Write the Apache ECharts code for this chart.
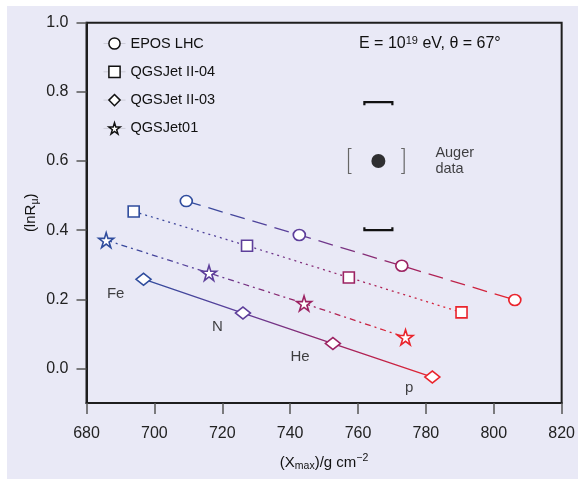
<!DOCTYPE html>
<html>
<head>
<meta charset="utf-8">
<script src="https://cdn.jsdelivr.net/npm/echarts@6/dist/echarts.min.js"></script>
<style>
  html, body { margin: 0; padding: 0; background: #ffffff; }
  #frame { position: absolute; left: 7px; top: 6px; width: 571px; height: 473px; background: #e9e9f6; }
  #chart { position: absolute; left: 0; top: 0; width: 578px; height: 479px; }
</style>
</head>
<body>
<div id="frame"></div>
<div id="chart"></div>
<script>
// Muon number (lnR_mu) versus depth of shower maximum for four interaction models
const seriesNames = ['EPOS LHC', 'QGSJet II-04', 'QGSJet II-03', 'QGSJet01'];
const primaries = ['Fe', 'N', 'He', 'p'];

const eposX = [709.4, 742.7, 772.9, 806.2];
const eposY = [0.484, 0.386, 0.297, 0.198];

const qgsII04X = [693.9, 727.3, 757.3, 790.5];
const qgsII04Y = [0.454, 0.355, 0.263, 0.162];

const qgsII03X = [696.8, 726.1, 752.6, 781.9];
const qgsII03Y = [0.258, 0.160, 0.072, -0.025];

const qgs01X = [685.8, 716.1, 744.1, 774.0];
const qgs01Y = [0.371, 0.276, 0.188, 0.090];

// Auger measurement with systematic ranges
const augerX = [766.0];
const augerY = [0.600];
const augerYRange = [0.400, 0.770];
const augerXRange = [757.2, 773.6];

// Primary labels placed along the QGSJet II-03 line
const primaryLabelX = [688.6, 718.6, 742.9, 775.1];
const primaryLabelY = [0.215, 0.120, 0.033, -0.057];

const xTicks = [680, 700, 720, 740, 760, 780, 800, 820];
const yTicks = [0.0, 0.2, 0.4, 0.6, 0.8, 1.0];

const primaryColors = ['#2f4c9d', '#5d3e9a', '#9c2262', '#ea242c'];
const STAR = 'path://M50,0 L61.2,34.5 L97.6,34.5 L68.2,55.9 L79.4,90.5 L50,69.1 L20.6,90.5 L31.8,55.9 L2.4,34.5 L38.8,34.5 Z';

const SANS = '"Liberation Sans", Arial, sans-serif';

function zip(xs, ys) { return xs.map((x, i) => [x, ys[i]]); }

function gradient() {
  return new echarts.graphic.LinearGradient(0, 0, 1, 0, [
    { offset: 0, color: primaryColors[0] },
    { offset: 0.33, color: primaryColors[1] },
    { offset: 0.67, color: primaryColors[2] },
    { offset: 1, color: primaryColors[3] }
  ]);
}

function modelSeries(name, xs, ys, symbol, size, dash) {
  return {
    name: name,
    type: 'line',
    data: zip(xs, ys).map((p, i) => ({
      value: p,
      itemStyle: { color: '#ffffff', borderColor: primaryColors[i], borderWidth: 1.6 }
    })),
    symbol: symbol,
    symbolSize: size,
    showAllSymbol: true,
    z: 3,
    lineStyle: { color: gradient(), width: 1.3, type: dash },
    emphasis: { disabled: true },
    animation: false
  };
}

const chart = echarts.init(document.getElementById('chart'), null, { renderer: 'canvas' });

const option = {
  backgroundColor: 'transparent',
  animation: false,
  grid: {
    left: 86.5, right: 14, top: 22.7, bottom: 76,
    show: true, borderColor: '#1e1e1e', borderWidth: 2, backgroundColor: 'transparent'
  },
  legend: {
    orient: 'vertical',
    left: 98, top: 31,
    itemWidth: 22, itemHeight: 14, itemGap: 13.3,
    data: seriesNames,
    lineStyle: { color: 'rgba(0,0,0,0.12)', width: 1, type: 'solid' },
    itemStyle: { color: '#ffffff', borderColor: '#111111', borderWidth: 1.5 },
    textStyle: { fontFamily: SANS, fontSize: 14.5, color: '#111', lineHeight: 14, height: 14, padding: 0 },
    selectedMode: false
  },
  xAxis: {
    type: 'value', min: 680, max: 820, interval: 20,
    name: '({x|X}{sub|max})/g cm{sup|−2}',
    nameLocation: 'middle', nameGap: 50, nameMoveOverlap: false,
    nameTextStyle: {
      fontFamily: SANS, fontSize: 15, color: '#111',
      rich: {
        x: { fontFamily: SANS, fontSize: 15, color: '#111' },
        sub: { fontFamily: SANS, fontSize: 10.5, color: '#111', verticalAlign: 'bottom', padding: [8, 0, 0, 0] },
        sup: { fontFamily: SANS, fontSize: 10.5, color: '#111', verticalAlign: 'top', padding: [0, 0, 8, 0] }
      }
    },
    axisLine: { show: true, onZero: false, lineStyle: { color: '#1e1e1e', width: 2 } },
    axisTick: { show: true, inside: false, length: 11, lineStyle: { color: '#555', width: 1.5 } },
    axisLabel: { fontFamily: SANS, fontSize: 16, color: '#222', margin: 23 },
    splitLine: { show: false }
  },
  yAxis: {
    type: 'value', min: -0.1, max: 1.0,
    name: '(lnR{sub|μ})',
    nameLocation: 'middle', nameGap: 46, nameRotate: 90, nameMoveOverlap: false,
    nameTextStyle: {
      fontFamily: SANS, fontSize: 15, color: '#111',
      rich: {
        sub: { fontFamily: SANS, fontSize: 10.5, color: '#111', verticalAlign: 'bottom', padding: [8, 0, 0, 0] }
      }
    },
    axisLine: { show: true, onZero: false, lineStyle: { color: '#1e1e1e', width: 2 } },
    axisTick: { show: true, inside: false, length: 10, lineStyle: { color: '#555', width: 1.5 },
      customValues: yTicks },
    axisLabel: { fontFamily: SANS, fontSize: 16, color: '#222', margin: 18,
      customValues: yTicks, formatter: v => v.toFixed(1) },
    splitLine: { show: false }
  },
  graphic: [{
    type: 'text', left: 359, top: 35, z: 10,
    style: {
      text: 'E = 10{sup|19} eV, θ = 67°',
      font: '16px ' + SANS, fill: '#111',
      rich: {
        sup: { fontFamily: SANS, fontSize: 11, fill: '#111', verticalAlign: 'top', padding: [0, 0, 7, 0] }
      }
    }
  }],
  series: [
    modelSeries(seriesNames[0], eposX, eposY, 'circle', [12, 11], [15, 8]),
    modelSeries(seriesNames[1], qgsII04X, qgsII04Y, 'rect', 11, [2, 4]),
    modelSeries(seriesNames[2], qgsII03X, qgsII03Y, 'diamond', [15, 12], 'solid'),
    modelSeries(seriesNames[3], qgs01X, qgs01Y, STAR, 15, [6, 4, 2, 4]),
    {
      name: 'primaries',
      type: 'scatter',
      data: zip(primaryLabelX, primaryLabelY).map((p, i) => ({ value: p, name: primaries[i] })),
      symbolSize: 0,
      label: {
        show: true, position: 'inside', formatter: p => p.name,
        fontFamily: SANS, fontSize: 15, color: '#111'
      },
      silent: true, z: 4
    },
    {
      name: 'Auger brackets',
      type: 'custom',
      data: zip(augerX, augerY).map((p, i) => [p[0], p[1], augerXRange[0], augerXRange[1], augerYRange[0], augerYRange[1]]),
      renderItem: function (params, api) {
        const c = api.coord([api.value(0), api.value(1)]);
        const lo = api.coord([api.value(0), api.value(4)]);
        const hi = api.coord([api.value(0), api.value(5)]);
        const xl = api.coord([api.value(2), api.value(1)]);
        const xr = api.coord([api.value(3), api.value(1)]);
        const hw = 14, end = 3, bh = 12.5, serif = 3;
        const dark = { stroke: '#111', lineWidth: 2.2, fill: 'none' };
        const grey = { stroke: '#666', lineWidth: 1.2, fill: 'none' };
        return {
          type: 'group',
          children: [
            { type: 'polyline', shape: { points: [[c[0] - hw, hi[1] + end], [c[0] - hw, hi[1]], [c[0] + hw, hi[1]], [c[0] + hw, hi[1] + end]] }, style: dark },
            { type: 'polyline', shape: { points: [[c[0] - hw, lo[1] - end], [c[0] - hw, lo[1]], [c[0] + hw, lo[1]], [c[0] + hw, lo[1] - end]] }, style: dark },
            { type: 'polyline', shape: { points: [[xl[0] + serif, c[1] - bh], [xl[0], c[1] - bh], [xl[0], c[1] + bh], [xl[0] + serif, c[1] + bh]] }, style: grey },
            { type: 'polyline', shape: { points: [[xr[0] - serif, c[1] - bh], [xr[0], c[1] - bh], [xr[0], c[1] + bh], [xr[0] - serif, c[1] + bh]] }, style: grey }
          ]
        };
      },
      silent: true, z: 5
    },
    {
      name: 'Auger data',
      type: 'scatter',
      data: zip(augerX, augerY),
      symbol: 'circle', symbolSize: 14,
      itemStyle: { color: '#000' },
      label: {
        show: true, position: 'right', distance: 50,
        formatter: 'Auger\ndata',
        fontFamily: SANS, fontSize: 14.5, color: '#111', lineHeight: 16, align: 'left'
      },
      silent: true, z: 6
    }
  ]
};

chart.setOption(option);
</script>
</body>
</html>
